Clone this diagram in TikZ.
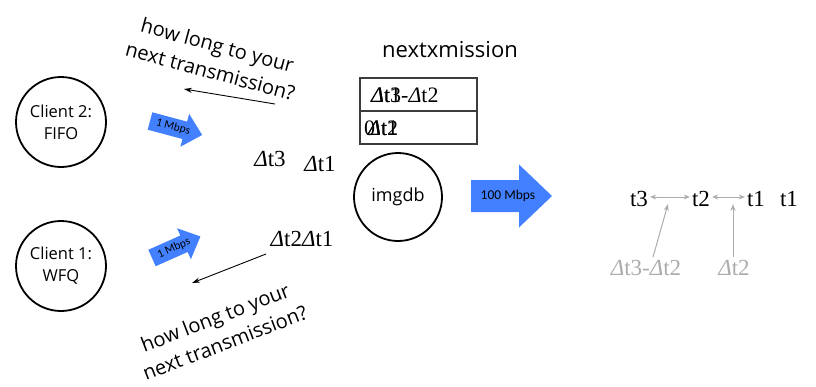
\documentclass[tikz,border=0pt]{standalone}
\usepackage{fontspec}
\setmainfont{Liberation Serif}
\newfontfamily\osans{Open Sans}
\newfontfamily\calib{Carlito}
\usetikzlibrary{arrows.meta,calc}
\newcommand\Dl{{\itshape Δ}}
\definecolor{arrowblue}{RGB}{66,128,255}
\definecolor{softgray}{RGB}{172,172,172}
\definecolor{boxgray}{RGB}{60,60,60}
\tikzset{
  client/.style={circle, draw, line width=1.8pt, minimum size=90pt, inner sep=0pt, align=center,
                 font=\osans\fontsize{16.5}{22}\selectfont},
  question/.style={align=center, font=\osans\fontsize{20}{27}\selectfont, inner sep=0pt},
  serif/.style={font=\fontsize{23}{26}\selectfont, inner sep=0pt},
  cellserif/.style={font=\fontsize{22}{26}\selectfont, inner sep=0pt, anchor=west},
  cell/.style={draw=boxgray, line width=1.4pt, minimum width=117pt, minimum height=33pt, inner sep=0pt},
  mbps/.style={font=\calib\fontsize{#1}{#1}\selectfont, inner sep=0pt, transform shape},
  thinarrow/.style={line width=0.9pt, -{Stealth[length=8pt,width=5pt]}},
  grayarrow/.style={draw=softgray, line width=1pt, -{Stealth[length=7pt,width=5pt]}},
  graydouble/.style={draw=softgray, line width=1pt, {Stealth[length=6pt,width=5pt]}-{Stealth[length=6pt,width=5pt]}},
}
\begin{document}
\begin{tikzpicture}[x=1pt,y=1pt]
\useasboundingbox (0,0) rectangle (816,-386);

% clients and server
\node[client] (c2) at (61,-122) {Client 2:\\FIFO};
\node[client] (c1) at (61,-266) {Client 1:\\WFQ};
\node[client, minimum size=88pt, font=\osans\fontsize{18}{22}\selectfont] (db) at (398,-197) {imgdb};

% link speeds (block arrows)
\begin{scope}[shift={(150,-121)}, rotate=-15]
  \fill[arrowblue] (0,9) -- (36,9) -- (36,17) -- (54,0) -- (36,-17) -- (36,-9) -- (0,-9) -- cycle;
  \node[mbps=11.5] (m2) at (24,0) {1 Mbps};
\end{scope}
\begin{scope}[shift={(152,-258)}, rotate=24]
  \fill[arrowblue] (0,9) -- (35,9) -- (35,17) -- (53,0) -- (35,-17) -- (35,-9) -- (0,-9) -- cycle;
  \node[mbps=11.5] (m1) at (24,0) {1 Mbps};
\end{scope}
\begin{scope}[shift={(471,-196)}]
  \fill[arrowblue] (0,16) -- (48,16) -- (48,31.5) -- (81,0) -- (48,-31.5) -- (48,-16) -- (0,-16) -- cycle;
  \node[mbps=13.5] (m0) at (37,0) {100 Mbps};
\end{scope}

% questions to the clients
\node[question, rotate=-15] (q2) at (214,-58) {how long to your\\next transmission?};
\node[question, rotate=21] (q1) at (220,-330) {how long to your\\next transmission?};
\coordinate (q2s) at (275,-104);
\coordinate (q2e) at (184,-89);
\coordinate (q1s) at (266,-254);
\coordinate (q1e) at (192,-283);
\draw[thinarrow] (q2s) -- (q2e);
\draw[thinarrow] (q1s) -- (q1e);

% pending delays
\node[serif] (d3) at (270,-159) {\Dl t3};
\node[serif] (d1) at (320,-164) {\Dl t1};
\node[serif] (d21) at (302,-239) {\Dl t2\Dl t1};

% nextxmission table
\node[font=\osans\fontsize{22}{26}\selectfont] (nx) at (450,-50) {nextxmission};
\node[cell] (r1) at (418.5,-94.5) {};
\node[cell] (r2) at (418.5,-127.5) {};
\node[cellserif] (r1a) at (371,-95) {\Dl t3-\Dl t2};
\node[cellserif] (r1b) at (371,-95) {\Dl t1};
\node[cellserif] (r2a) at (364,-128) {0};
\node[cellserif] (r2b) at (368,-128) {\Dl t1};
\node[cellserif] (r2c) at (368,-128) {\Dl t2};

% outgoing timeline
\node[serif] (t3) at (639,-199) {t3};
\node[serif] (t2) at (701,-199) {t2};
\node[serif] (t1) at (756,-199) {t1};
\node[serif] (t1b) at (789,-199) {t1};
\draw[graydouble] ([xshift=2pt,yshift=2pt]t3.east) -- ([xshift=-2pt,yshift=2pt]t2.west);
\draw[graydouble] ([xshift=2pt,yshift=2pt]t2.east) -- ([xshift=-2pt,yshift=2pt]t1.west);
\node[serif, text=softgray] (g32) at (646,-268) {\Dl t3-\Dl t2};
\node[serif, text=softgray] (g2) at (734,-268) {\Dl t2};
\coordinate (g32t) at (668,-204);
\coordinate (g2t) at (733,-204);
\draw[grayarrow] ([xshift=7pt,yshift=3pt]g32.north) -- (g32t);
\draw[grayarrow] ([xshift=-1pt,yshift=3pt]g2.north) -- (g2t);
\end{tikzpicture}
\end{document}
